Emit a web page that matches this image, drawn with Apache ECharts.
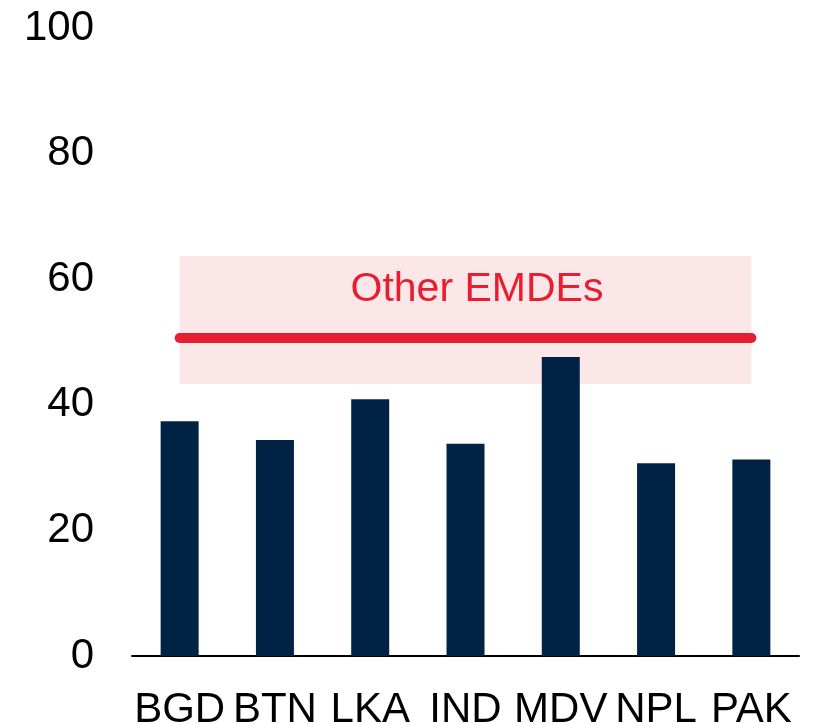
<!DOCTYPE html>
<html>
<head>
<meta charset="utf-8">
<script src="https://cdn.jsdelivr.net/npm/echarts@6/dist/echarts.min.js"></script>
<style>
  html, body { margin: 0; padding: 0; background: #fff; }
  #chart { width: 818px; height: 724px; }
</style>
</head>
<body>
<div id="chart"></div>
<script>
// South Asian economies vs. the range for other EMDEs
const categories = ['BGD', 'BTN', 'LKA', 'IND', 'MDV', 'NPL', 'PAK'];
const values = [37.4, 34.4, 40.9, 33.8, 47.6, 30.7, 31.3];
const emdeMedian = 50.7;
const emdeRange = [43.3, 63.7];
const yTicks = [0, 20, 40, 60, 80, 100];

const FONT = '"Liberation Sans", Arial, sans-serif';
const RED = '#e81d2f';

// Index positions of the first and last country, used by the hidden value axis
const firstIdx = 0;
const lastIdx = categories.length - 1;

const chart = echarts.init(document.getElementById('chart'), null, { renderer: 'canvas' });

chart.setOption({
  animation: false,
  backgroundColor: '#ffffff',
  grid: {
    left: 132, right: 19, top: 28, bottom: 68,
    containLabel: false,
    outerBoundsMode: 'none'
  },
  xAxis: [{
    type: 'category',
    data: categories,
    axisLine: { show: true, lineStyle: { color: '#000', width: 2 } },
    axisTick: { show: false },
    axisLabel: { color: '#000', fontSize: 42, fontFamily: FONT, margin: 33, interval: 0 }
  }, {
    // numeric twin of the category axis: index i sits at the centre of category i
    type: 'value',
    show: false,
    min: -0.5,
    max: categories.length - 0.5,
    position: 'bottom'
  }],
  yAxis: {
    type: 'value',
    min: yTicks[0],
    max: yTicks[yTicks.length - 1],
    interval: 20,
    axisLine: { show: false },
    axisTick: { show: false },
    splitLine: { show: false },
    axisLabel: { color: '#000', fontSize: 42, fontFamily: FONT, margin: 38 }
  },
  series: [{
    type: 'line',
    xAxisIndex: 1,
    data: [],
    silent: true,
    z: 1,
    markArea: {
      silent: true,
      itemStyle: { color: '#fbe6e8' },
      label: {
        show: true,
        position: ['52%', '26%'],
        align: 'center',
        verticalAlign: 'middle',
        color: RED,
        fontSize: 41,
        fontFamily: FONT,
        formatter: 'Other EMDEs'
      },
      data: [[
        { xAxis: firstIdx, yAxis: emdeRange[1] },
        { xAxis: lastIdx, yAxis: emdeRange[0] }
      ]]
    },
    markLine: {
      silent: true,
      symbol: 'none',
      label: { show: false },
      lineStyle: { color: RED, width: 10, type: 'solid', cap: 'round' },
      data: [[
        { xAxis: firstIdx, yAxis: emdeMedian },
        { xAxis: lastIdx, yAxis: emdeMedian }
      ]]
    }
  }, {
    type: 'bar',
    xAxisIndex: 0,
    data: values,
    barWidth: 38,
    itemStyle: { color: '#002345' },
    z: 3
  }]
});
</script>
</body>
</html>
